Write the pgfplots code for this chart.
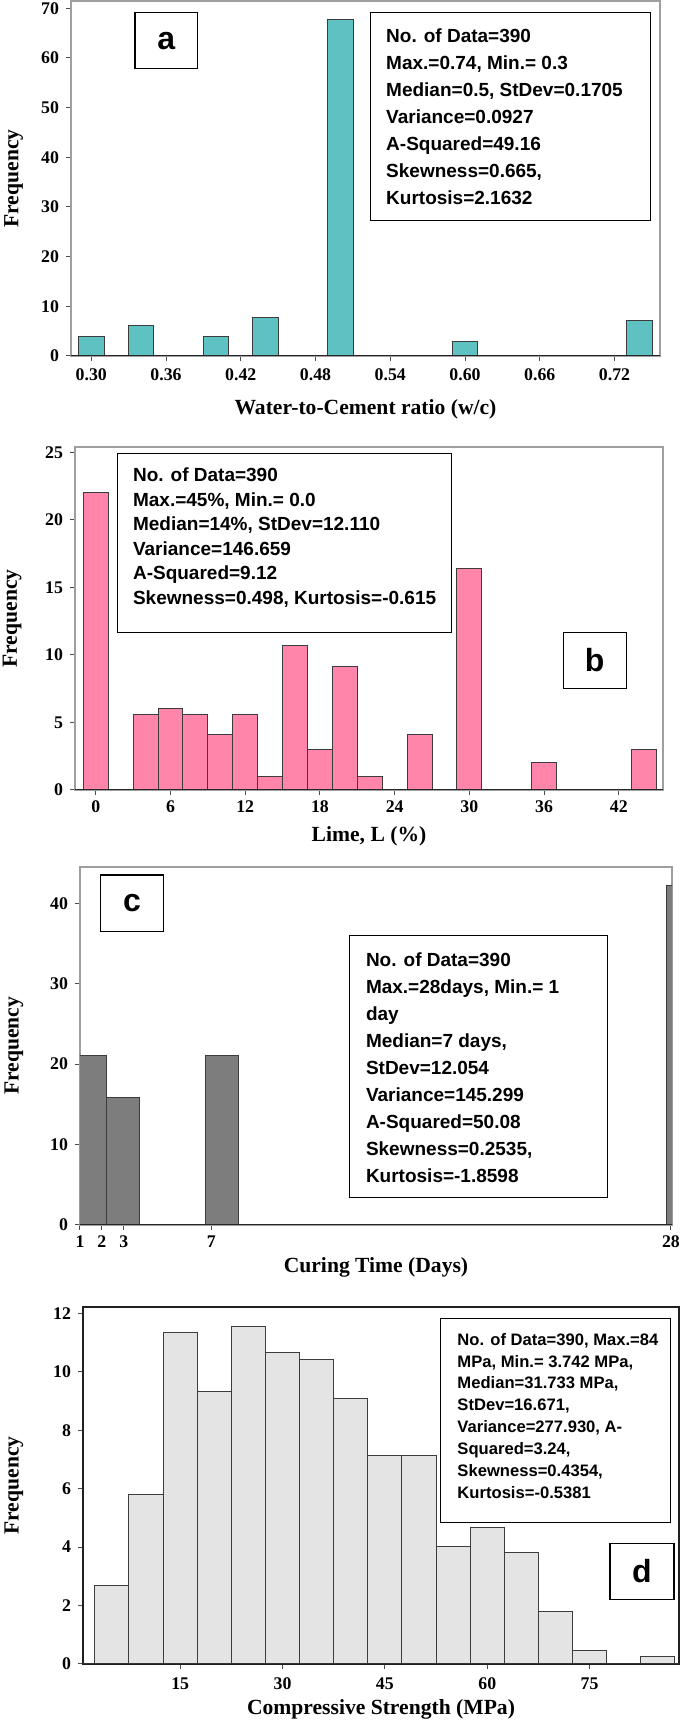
\documentclass[border=0pt]{standalone}
\usepackage{fontspec}
\setmainfont{Liberation Serif}
\newfontfamily\arialfont{Liberation Sans}
\usepackage{pgfplots}
\pgfplotsset{compat=1.18}
\definecolor{tealbar}{RGB}{94,194,194}
\definecolor{pinkbar}{RGB}{255,133,170}
\definecolor{graybar}{RGB}{125,125,125}
\definecolor{lightbar}{RGB}{228,228,228}
\definecolor{edge}{RGB}{60,60,60}
\pgfplotsset{
  hist/.style={
    scale only axis, anchor=south west,
    ybar, bar shift=0pt, enlargelimits=false, ymin=0,
    axis line style={gray!75, line width=0.6pt},
    tick pos=left, tick align=outside, major tick length=2.5pt,
    tick style={gray!60!black, line width=0.5pt},
    /pgf/number format/assume math mode=true,
    tick label style={font=\bfseries\fontsize{8.9}{10}\selectfont},
    label style={font=\bfseries\fontsize{10.8}{13}\selectfont},
    ylabel={Frequency},
    yticklabel style={anchor=east},
  },
}
\tikzset{
  statbox/.style={draw=black, line width=0.6pt, fill=white},
  stattext/.style={anchor=north west, inner sep=0pt, align=left,
    font=\arialfont\bfseries\fontsize{9.5}{13.5}\selectfont},
  letter/.style={inner sep=0pt, font=\arialfont\bfseries\fontsize{16}{18}\selectfont},
}
\begin{document}
\begin{tikzpicture}
\path[use as bounding box] (0,0) rectangle (342.5pt,861pt);

% ---------------- panel a
\begin{axis}[hist, at={(35.5pt,683pt)}, width=294.5pt, height=177.5pt,
  xmin=0.2837, xmax=0.7565, ymax=71.47,
  bar width=0.0205,
  xtick={0.30,0.36,0.42,0.48,0.54,0.60,0.66,0.72},
  xticklabels={0.30,0.36,0.42,0.48,0.54,0.60,0.66,0.72},
  ytick={0,10,...,70},
  xticklabel style={anchor=base, yshift=-10pt},
  xlabel={Water-to-Cement ratio (w/c)},
  xlabel style={at={([yshift=-29.5pt]axis description cs:0.5,0)}, anchor=base},
  ylabel style={at={([xshift=-26.25pt]axis description cs:0,0.5)}, anchor=base},
]
\addplot[fill=tealbar, draw=edge, line width=0.5pt] coordinates {
  (0.30,4.0) (0.34,6.2) (0.40,4.0) (0.44,7.7) (0.50,67.7) (0.60,3.0) (0.74,7.2)};
\draw[gray!30!black, line width=0.9pt] (rel axis cs:0,0) -- (rel axis cs:1,0);
\draw[statbox] (axis cs:0.3351,69.1) rectangle (axis cs:0.3854,57.9);
\node[letter] at (axis cs:0.36025,63.5) {a};
\draw[statbox] (axis cs:0.5239,69.1) rectangle (axis cs:0.7488,27.3);
\node[stattext] at (axis cs:0.5364,66.0) {No. of Data=390\\Max.=0.74, Min.= 0.3\\Median=0.5, StDev=0.1705\\Variance=0.0927\\A-Squared=49.16\\Skewness=0.665,\\Kurtosis=2.1632};
\end{axis}

% ---------------- panel b
\begin{axis}[hist, at={(37.5pt,466pt)}, width=294pt, height=171.5pt,
  xmin=-1.67, xmax=45.55, ymax=25.4,
  bar width=2,
  xtick={0,6,...,42}, ytick={0,5,...,25},
  xticklabel style={anchor=base, yshift=-9pt},
  xlabel={Lime, L (\%)},
  xlabel style={at={([yshift=-26pt]axis description cs:0.5,0)}, anchor=base},
  ylabel style={at={([xshift=-29pt]axis description cs:0,0.5)}, anchor=base},
]
\addplot[fill=pinkbar, draw=edge, line width=0.5pt] coordinates {
  (0,22) (4,5.6) (6,6.05) (8,5.6) (10,4.1) (12,5.6) (14,1) (16,10.7) (18,3.0)
  (20,9.15) (22,1) (26,4.1) (30,16.4) (36,2.0) (44,3.0)};
\draw[gray!30!black, line width=0.9pt] (rel axis cs:0,0) -- (rel axis cs:1,0);
\draw[statbox] (axis cs:1.74,24.93) rectangle (axis cs:28.58,11.66);
\node[stattext, font=\arialfont\bfseries\fontsize{9.5}{12.25}\selectfont] at (axis cs:2.96,23.88) {No. of Data=390\\Max.=45\%, Min.= 0.0\\Median=14\%, StDev=12.110\\Variance=146.659\\A-Squared=9.12\\Skewness=0.498, Kurtosis=-0.615};
\draw[statbox] (axis cs:37.55,11.68) rectangle (axis cs:42.59,7.54);
\node[letter] at (axis cs:40.07,9.61) {b};
\end{axis}

% ---------------- panel c
\begin{axis}[hist, at={(40pt,248.5pt)}, width=296pt, height=179pt,
  xmin=1, xmax=28.05, ymax=44.5,
  bar width=1.49,
  xtick={1,2,3,7,28}, ytick={0,10,...,40},
  xticklabel style={anchor=base, yshift=-9pt},
  xlabel={Curing Time (Days)},
  xlabel style={at={([yshift=-24pt]axis description cs:0.5,0)}, anchor=base},
  ylabel style={at={([xshift=-30.7pt]axis description cs:0,0.5)}, anchor=base},
]
\addplot[fill=graybar, draw=edge, line width=0.5pt] coordinates {
  (1.485,21.1) (2.97,15.9) (7.49,21.1) (28.525,42.2)};
\draw[gray!30!black, line width=0.9pt] (rel axis cs:0,0) -- (rel axis cs:1,0);
\draw[statbox] (axis cs:1.93,43.5) rectangle (axis cs:4.82,36.53);
\node[letter] at (axis cs:3.375,40.0) {c};
\draw[statbox] (axis cs:13.30,36.03) rectangle (axis cs:25.11,3.42);
\node[stattext, font=\arialfont\bfseries\fontsize{9.5}{13.55}\selectfont] at (axis cs:14.05,33.95) {No. of Data=390\\Max.=28days, Min.= 1\\day\\Median=7 days,\\StDev=12.054\\Variance=145.299\\A-Squared=50.08\\Skewness=0.2535,\\Kurtosis=-1.8598};
\end{axis}

% ---------------- panel d
\begin{axis}[hist, at={(41.5pt,29pt)}, width=298pt, height=178.5pt,
  xmin=0.76, xmax=88.1, ymax=12.22,
  axis line style={gray!25!black, line width=0.6pt},
  bar width=5,
  xtick={15,30,...,75}, ytick={0,2,...,12},
  xticklabel style={anchor=base, yshift=-10pt},
  xlabel={Compressive Strength (MPa)},
  xlabel style={at={([yshift=-25.5pt]axis description cs:0.5,0)}, anchor=base},
  ylabel style={at={([xshift=-32.2pt]axis description cs:0,0.5)}, anchor=base},
]
\addplot[fill=lightbar, draw=edge, line width=0.5pt] coordinates {
  (5,2.67) (10,5.79) (15,11.35) (20,9.33) (25,11.55) (30,10.67) (35,10.43) (40,9.10)
  (45,7.12) (50,7.12) (55,4.02) (60,4.68) (65,3.80) (70,1.80) (75,0.47) (85,0.26)};
\draw[gray!40!black, line width=1.4pt] (rel axis cs:0,0) -- (rel axis cs:1,0);
\draw[statbox] (axis cs:53.19,11.83) rectangle (axis cs:86.9,4.84);
\node[stattext, font=\arialfont\bfseries\fontsize{8.3}{10.95}\selectfont] at (axis cs:55.58,11.34) {No. of Data=390, Max.=84\\MPa, Min.= 3.742 MPa,\\Median=31.733 MPa,\\StDev=16.671,\\Variance=277.930, A-\\Squared=3.24,\\Skewness=0.4354,\\Kurtosis=-0.5381};
\draw[statbox] (axis cs:77.98,4.13) rectangle (axis cs:87.36,2.22);
\node[letter] at (axis cs:82.67,3.175) {d};
\end{axis}
\end{tikzpicture}
\end{document}
